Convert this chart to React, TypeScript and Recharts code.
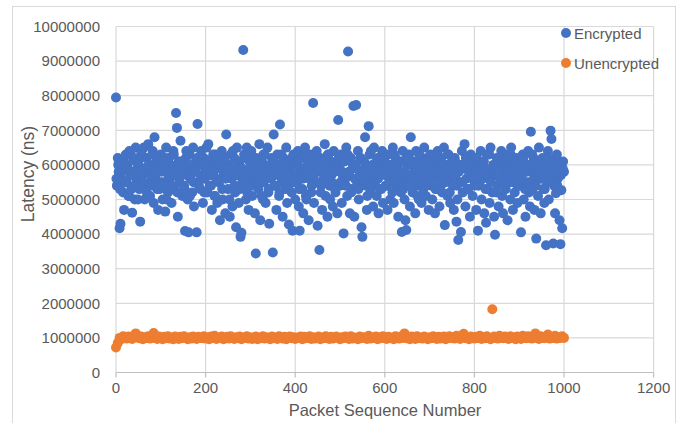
import React from 'react';
import { ScatterChart, Scatter, XAxis, YAxis, CartesianGrid, Legend } from 'recharts';

const xTicks = [0, 200, 400, 600, 800, 1000, 1200];
const yTicks = [0, 1000000, 2000000, 3000000, 4000000, 5000000, 6000000, 7000000, 8000000, 9000000, 10000000];

const seriesNames = ['Encrypted', 'Unencrypted'];
const seriesColors = ['#4472C4', '#ED7D31'];

// packet sequence step between plotted packets
const encryptedSeqStep = 2;
const encryptedExtraSeqStep = 4;
const encryptedExtraSeqOffset = 1;
const unencryptedSeqStep = 4;

// latency in microseconds (converted to ns below)
const encryptedLatencyUs = [
  7950, 5400, 6200, 5800, 4170, 4300, 5600, 6100, 5200, 4700, 5900, 6300, 5500, 6000, 5100, 6400, 5700, 5300, 4620, 6200, 5800, 5000, 6500, 5600, 5900,
  6100, 5300, 4360, 6300, 5700, 5500, 6500, 5000, 5900, 6200, 5400, 6600, 5800, 5100, 6000, 5600, 6400, 4900, 6800, 5700, 6200, 5300, 4700, 6000, 5500,
  6300, 5800, 5000, 6100, 5400, 4650, 6500, 5900, 5200, 6200, 5600, 6000, 4900, 5700, 6400, 5300, 5900, 7500, 7070, 4500, 6100, 5500, 6700, 5800, 5100,
  6000, 5400, 4090, 6200, 5700, 5000, 4050, 6300, 5600, 5900, 5200, 6500, 4800, 5800, 6100, 4050, 7180, 5500, 6000, 5300, 6400, 5700, 4900, 6200, 5600,
  5900, 6500, 5200, 6600, 5700, 6000, 5400, 4700, 6200, 5800, 5100, 6300, 5600, 4900, 6100, 5500, 4400, 5900, 6400, 5000, 5700, 6200, 4600, 6880, 5800,
  5300, 6000, 4500, 6300, 5600, 4800, 5900, 6200, 5200, 4200, 6500, 5700, 4900, 6100, 3920, 4040, 5500, 9320, 6300, 5800, 5000, 6500, 5400, 4700, 6100,
  5600, 6400, 5100, 5900, 6200, 4600, 3440, 5700, 6000, 5300, 6600, 4400, 5800, 6100, 5000, 5500, 6300, 4900, 5900, 6500, 5200, 4300, 6000, 5600, 6200,
  3470, 6880, 5400, 5900, 4700, 6300, 5700, 5100, 7170, 6000, 5500, 4500, 6200, 5800, 5300, 6500, 4900, 5600, 4280, 6100, 5900, 5200, 4100, 6300, 5700,
  5000, 6000, 5500, 6400, 4800, 4100, 5800, 6200, 5300, 4600, 5900, 6500, 5100, 5700, 6100, 4400, 5600, 6300, 5200, 5900, 7790, 4900, 6000, 5500, 6400,
  4240, 5800, 3540, 6200, 5400, 4700, 6000, 5600, 6600, 5100, 5900, 4500, 6300, 5700, 5000, 6100, 5500, 4800, 6400, 5800, 5200, 6000, 4600, 7300, 5900,
  5400, 6300, 4900, 5700, 4020, 6100, 5600, 6500, 5100, 9280, 5800, 4600, 6200, 5300, 5900, 7700, 4500, 6000, 7730, 5500, 6400, 5000, 5800, 6200, 4200,
  3920, 5700, 6100, 6800, 5400, 4700, 5900, 7120, 6300, 5200, 5600, 6000, 4800, 6500, 5500, 5800, 5100, 6200, 4600, 5700, 6000, 5300, 6400, 4900, 5900,
  6100, 5400, 5800, 4700, 6300, 5600, 5000, 6000, 5500, 6500, 4900, 5900, 6200, 5300, 5700, 4500, 6100, 5800, 5200, 4060, 6400, 5600, 5000, 4400, 4120,
  6000, 5500, 6300, 4800, 6800, 5700, 5200, 6100, 5900, 4600, 6400, 5400, 5800, 5000, 6200, 5600, 4900, 6000, 5300, 6500, 5700, 5100, 6200, 5500, 4700,
  5900, 6300, 5400, 5000, 6100, 5700, 4600, 6000, 5300, 6400, 5600, 4800, 5900, 6200, 5200, 5700, 6500, 4260, 5500, 6000, 5100, 6300, 5800, 4900, 5600,
  6100, 5400, 4700, 6200, 5700, 4360, 5000, 3830, 6000, 5500, 4060, 6400, 5200, 5900, 6600, 4800, 5600, 6100, 5300, 5800, 4500, 6300, 5700, 5100, 6000,
  5400, 6200, 4700, 5800, 4100, 6000, 5500, 6400, 5000, 5700, 6100, 4600, 5900, 4330, 6300, 5300, 5600, 4900, 6500, 5800, 5200, 6000, 4500, 3980, 5700,
  6200, 5400, 4800, 6000, 5600, 6400, 5100, 4600, 5900, 6300, 5300, 5700, 4400, 6100, 5500, 5000, 6500, 5800, 4700, 6000, 5200, 5600, 6200, 4900, 5900,
  5400, 6100, 4050, 5700, 6300, 5000, 5800, 4500, 6000, 5500, 6400, 5200, 4800, 6960, 5900, 5300, 6200, 4700, 5600, 3870, 6000, 5100, 6500, 5700, 4600,
  5800, 6200, 5300, 4900, 6000, 3680, 5500, 6400, 5000, 5700, 6990, 6750, 6100, 3730, 5400, 4600, 5180, 6300, 5600, 5900, 4400, 3710, 5270, 4170, 6100,
  5800,
];

// additional encrypted packets (sequence 1, 5, 9, ...)
const encryptedExtraLatencyUs = [
  5600, 6000, 5300, 5800, 6200, 5500, 5900, 5100, 6300, 5700, 5400, 6100, 5000, 5800, 6400, 5500, 5900, 5200, 6000, 5700, 6300, 5400, 5800, 6100, 5300,
  5900, 5500, 6200, 5000, 5700, 6000, 5400, 6300, 5800, 5200, 5600, 6100, 5900, 5300, 6400, 5700, 5100, 6000, 5500, 5800, 6200, 5400, 5700, 6000, 5200,
  5800, 6100, 5400, 5700, 6300, 5100, 5900, 5500, 6000, 5300, 6200, 5600, 5900, 5000, 5800, 6400, 5400, 5700, 6100, 5300, 5900, 5600, 6200, 5200, 5800,
  6000, 5400, 5700, 6200, 5500, 5900, 5100, 6300, 5600, 5800, 5300, 6000, 5700, 6100, 5400, 5900, 5200, 6300, 5600, 5800, 6000, 5400, 5700, 6200, 5500,
  5700, 6100, 5300, 5900, 5600, 6300, 5000, 5800, 6000, 5400, 5700, 6200, 5500, 5900, 5200, 6100, 5600, 5800, 6300, 5400, 5700, 6000, 5300, 5900, 6200,
  5500, 5800, 6100, 5400, 6300, 5700, 5200, 6000, 5600, 5900, 5300, 6200, 5800, 5500, 6000, 5100, 5700, 6400, 5400, 5900, 6100, 5600, 5300, 5800, 6200,
  5700, 5400, 6000, 5800, 5200, 6300, 5600, 5900, 5500, 6100, 5300, 5800, 6200, 5700, 5400, 6000, 5600, 5900, 5100, 6300, 5500, 5800, 6000, 5400, 5700,
  6100, 5500, 5900, 5300, 6200, 5700, 5400, 6000, 5800, 5600, 6300, 5200, 5900, 5700, 6100, 5400, 5800, 6000, 5500, 5900, 6200, 5300, 5700, 6000, 5600,
  5800, 6200, 5400, 5900, 5600, 6100, 5300, 5700, 6300, 5500, 5900, 6000, 5200, 5800, 6200, 5600, 5400, 6000, 5700, 5900, 6300, 5500, 5800, 6100, 5400,
  5900, 5600, 6200, 5300, 5800, 6000, 5500, 6300, 5700, 5400, 6100, 5800, 5600, 6000, 5300, 5900, 6200, 5700, 5500, 6000, 5800, 5400, 6100, 5700, 5900,
];

const unencryptedLatencyUs = [
  720, 850, 1000, 960, 1050, 1010, 980, 1040, 1000, 970, 1060, 1130, 1010, 990, 1040, 960, 1020, 1000, 1050, 980, 1030, 1140, 1000, 970, 1040,
  1000, 960, 1030, 990, 1050, 980, 1010, 960, 1040, 1000, 970, 1030, 990, 1050, 1000, 960, 1020, 980, 1040, 1000, 970, 1030, 1000, 990, 1050,
  980, 1020, 960, 1040, 1000, 1060, 970, 1010, 990, 1040, 960, 1000, 1030, 980, 1050, 1000, 970, 1020, 990, 1040, 960, 1010, 1000, 1050, 980,
  1020, 970, 1000, 1040, 960, 1010, 990, 1050, 980, 1020, 1000, 960, 1040, 990, 1010, 970, 1050, 1000, 980, 1030, 960, 1000, 1040, 990, 1020,
  970, 1010, 1000, 1040, 960, 1030, 990, 1000, 1050, 970, 1020, 980, 1000, 1040, 960, 1010, 990, 1050, 1000, 970, 1030, 980, 1010, 1040, 1000,
  960, 1020, 990, 1040, 1000, 970, 1050, 980, 1010, 1000, 960, 1040, 990, 1020, 1000, 970, 1060, 980, 1010, 1000, 1040, 960, 1020, 990, 1050,
  1000, 970, 1030, 990, 1010, 960, 1050, 1000, 980, 1040, 1000, 1130, 990, 1020, 960, 1040, 1000, 970, 1050, 990, 1010, 980, 1040, 1000, 960,
  1020, 990, 1050, 1000, 970, 1030, 980, 1010, 1040, 960, 1000, 1050, 990, 1020, 980, 1060, 1000, 970, 1040, 1120, 990, 1010, 960, 1040, 1000,
  980, 1030, 1000, 1060, 970, 1020, 990, 1050, 1000, 960, 1830, 1040, 1000, 980, 1060, 1010, 990, 1040, 1000, 970, 1050, 1000, 1020, 960, 1040,
  1000, 970, 1060, 1010, 990, 1050, 1000, 980, 1040, 1130, 1000, 970, 1050, 1010, 990, 1040, 1100, 980, 1030, 1000, 1060, 980, 1020, 1000, 1050,
  1000,
];

const encryptedData = [
  ...encryptedLatencyUs.map((v, i) => ({ seq: i * encryptedSeqStep, latency: v * 1000 })),
  ...encryptedExtraLatencyUs.map((v, i) => ({ seq: encryptedExtraSeqOffset + i * encryptedExtraSeqStep, latency: v * 1000 })),
];
const unencryptedData = unencryptedLatencyUs.map((v, i) => ({ seq: i * unencryptedSeqStep, latency: v * 1000 }));

const FONT = '"Liberation Sans", Arial, sans-serif';
const TEXT = '#595959';

const makeDot = (color: string) => (props: any) => (
  <circle cx={props.cx} cy={props.cy} r={5} fill={color} stroke="none" />
);

const LegendContent = () => (
  <div style={{ fontFamily: FONT, fontSize: 15, color: TEXT }}>
    {seriesNames.map((name, i) => (
      <div key={name} style={{ display: 'flex', alignItems: 'center', height: 30 }}>
        <span style={{ width: 10, height: 10, borderRadius: 5, background: seriesColors[i], display: 'inline-block', marginRight: 3 }} />
        <span>{name}</span>
      </div>
    ))}
  </div>
);

export default function App() {
  return (
    <div style={{ position: 'absolute', left: 0, top: 0, width: 682, height: 423, overflow: 'hidden', background: '#fff' }}>
      <div style={{ position: 'absolute', left: 12, top: 6, width: 664, height: 440, border: '1px solid #d9d9d9', boxSizing: 'border-box' }} />
      <ScatterChart width={682} height={423} margin={{ top: 26.5, right: 28.4, left: 0, bottom: 20.5 }}>
        <CartesianGrid stroke="#d9d9d9" strokeWidth={1.2} />
        <XAxis
          type="number"
          dataKey="seq"
          domain={[0, 1200]}
          ticks={xTicks}
          height={30}
          axisLine={{ stroke: '#bfbfbf', strokeWidth: 1.2 }}
          tickLine={{ stroke: '#bfbfbf', strokeWidth: 1.2 }}
          tickSize={5}
          tickMargin={5}
          tick={{ fill: TEXT, fontSize: 15, fontFamily: FONT }}
          interval={0}
          label={{
            content: () => (
              <text x={385} y={416} textAnchor="middle" fill={TEXT} fontSize={16.5} fontFamily={FONT}>
                Packet Sequence Number
              </text>
            ),
          }}
        />
        <YAxis
          type="number"
          dataKey="latency"
          domain={[0, 10000000]}
          ticks={yTicks}
          width={116}
          axisLine={false}
          tickLine={false}
          tickMargin={10}
          tick={{ fill: TEXT, fontSize: 15, fontFamily: FONT }}
          interval={0}
          label={{
            content: () => (
              <text x={34} y={174} transform="rotate(-90 34 174)" textAnchor="middle" fill={TEXT} fontSize={17.5} fontFamily={FONT}>
                Latency (ns)
              </text>
            ),
          }}
        />
        <Legend
          verticalAlign="middle"
          align="center"
          layout="vertical"
          content={() => <LegendContent />}
          wrapperStyle={{ position: 'absolute', left: 561, top: 18, width: 120 }}
        />
        <Scatter name={seriesNames[0]} data={encryptedData} fill={seriesColors[0]} shape={makeDot(seriesColors[0])} isAnimationActive={false} />
        <Scatter name={seriesNames[1]} data={unencryptedData} fill={seriesColors[1]} shape={makeDot(seriesColors[1])} isAnimationActive={false} />
      </ScatterChart>
    </div>
  );
}
